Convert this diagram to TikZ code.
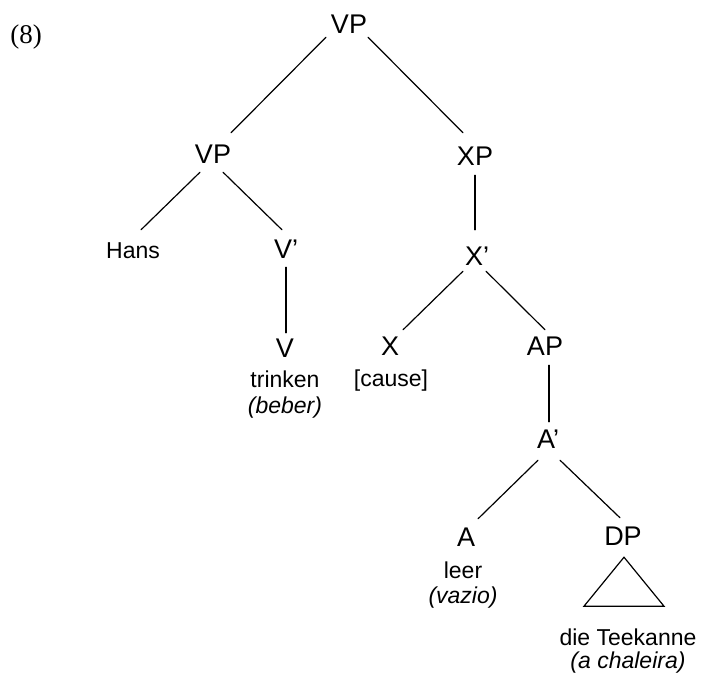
\documentclass[tikz,border=0pt]{standalone}
\usepackage{fontspec}
\setmainfont{Liberation Serif}
\newfontfamily\arialfont{Liberation Sans}
\tikzset{
  cat/.style={font=\arialfont\fontsize{27}{30}\selectfont,inner sep=0pt,
    text height=19.5pt,text depth=0pt,anchor=base},
  word/.style={font=\arialfont\fontsize{23}{26}\selectfont,inner sep=0pt,
    text height=16.5pt,text depth=0pt,anchor=base},
  gloss/.style={word,font=\arialfont\itshape\fontsize{23}{26}\selectfont},
  branch/.style={line width=1.2pt,line cap=round}
}

\begin{document}
\begin{tikzpicture}[x=1pt,y=-1pt]
  \useasboundingbox (0,0) rectangle (701,675);
  \node[font=\fontsize{27}{30}\selectfont,anchor=base] (exnum) at (26,43) {(8)};
  % categories
  \node[cat] (vp) at (349,33) {VP};
  \node[cat] (vpl) at (213,163) {VP};
  \node[cat] (xp) at (475,165) {XP};
  \node[word] (hans) at (133,258) {Hans};
  \node[cat] (vbar) at (286,258) {V’};
  \node[cat] (xbar) at (477,265) {X’};
  \node[cat] (v) at (285,357) {V};
  \node[cat] (x) at (390,355) {X};
  \node[cat] (ap) at (545,355) {AP};
  \node[cat] (abar) at (548,448) {A’};
  \node[cat] (a) at (466,546) {A};
  \node[cat] (dp) at (623,545) {DP};
  % words
  \node[word] (trinken) at (285,387) {trinken};
  \node[gloss] (beber) at (285,413) {(beber)};
  \node[word] (cause) at (391,386) {[cause]};
  \node[word] (leer) at (463,578) {leer};
  \node[gloss] (vazio) at (463,603) {(vazio)};
  \node[word] (teekanne) at (628,645) {die Teekanne};
  \node[gloss] (chaleira) at (628,668) {(a chaleira)};
  % branches
  \draw[branch] ([shift={(-23,4)}]vp.south) -- ([shift={(18,-10.5)}]vpl.north);
  \draw[branch] ([shift={(19,4)}]vp.south) -- ([shift={(-12,-12.5)}]xp.north);
  \draw[branch] ([shift={(-13,9)}]vpl.south) -- ([shift={(8,-11.5)}]hans.north);
  \draw[branch] ([shift={(10,9)}]vpl.south) -- ([shift={(-4,-8.5)}]vbar.north);
  \draw[branch] ([shift={(0,9)}]vbar.south) -- ([shift={(1,-4.5)}]v.north);
  \draw[branch] ([shift={(0,10)}]xp.south) -- ([shift={(-2,-15.5)}]xbar.north);
  \draw[branch] ([shift={(-14,6)}]xbar.south) -- ([shift={(13,-5.5)}]x.north);
  \draw[branch] ([shift={(9,6)}]xbar.south) -- ([shift={(0,-5.5)}]ap.north);
  \draw[branch] ([shift={(4,10)}]ap.south) -- ([shift={(1,-6.5)}]abar.north);
  \draw[branch] ([shift={(-10,12)}]abar.south) -- ([shift={(12,-7.5)}]a.north);
  \draw[branch] ([shift={(12,12)}]abar.south) -- ([shift={(-3,-7.5)}]dp.north);
  \draw[branch,line join=miter] ([shift={(1,12)}]dp.south) -- ++(-40,49) -- ++(80,0) -- cycle;
\end{tikzpicture}
\end{document}
